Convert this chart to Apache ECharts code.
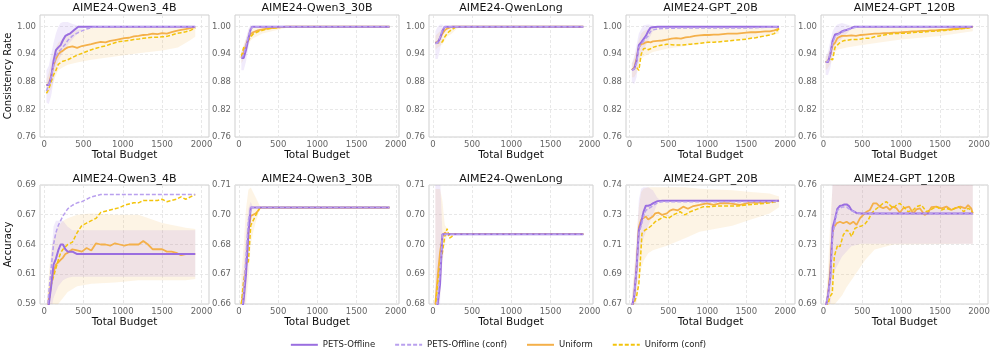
<!DOCTYPE html>
<html>
<head>
<meta charset="utf-8">
<script src="https://cdn.jsdelivr.net/npm/echarts@6/dist/echarts.min.js"></script>
<style>
  html, body { margin: 0; padding: 0; background: #fff; }
  #chart { width: 996px; height: 357px; }
</style>
</head>
<body>
<div id="chart"></div>
<script>
// panel titles / tick labels
const titles = ['AIME24-Qwen3_4B', 'AIME24-Qwen3_30B', 'AIME24-QwenLong', 'AIME24-GPT_20B', 'AIME24-GPT_120B'];
const xTicks = [0, 500, 1000, 1500, 2000];
const crTicks = [0.76, 0.82, 0.88, 0.94, 1.00];
const crTickLabels = ['0.76', '0.82', '0.88', '0.94', '1.00'];
const acTicksQ4 = [0.59, 0.615, 0.64, 0.665, 0.69];
const acLabelsQ4 = ['0.59', '0.61', '0.64', '0.67', '0.69'];
const acTicksQ30 = [0.66, 0.6725, 0.685, 0.6975, 0.71];
const acLabelsQ30 = ['0.66', '0.67', '0.68', '0.70', '0.71'];
const acTicksQL = [0.68, 0.6875, 0.695, 0.7025, 0.71];
const acLabelsQL = ['0.68', '0.69', '0.70', '0.70', '0.71'];
const acTicksG20 = [0.667, 0.686375, 0.70575, 0.725125, 0.7445];
const acLabelsG20 = ['0.67', '0.69', '0.71', '0.73', '0.74'];
const acTicksG120 = [0.69, 0.7075, 0.725, 0.7425, 0.76];
const acLabelsG120 = ['0.69', '0.71', '0.73', '0.74', '0.76'];

// ---- consistency rate: [budget, value], bands: [budget, low, high]
const crQ4Pets = [[30,.873],[60,.873],[90,.89],[120,.925],[150,.949],[180,.955],[210,.96],[240,.971],[270,.98],[300,.983],[330,.985],[390,.994],[435,1],[1920,1]];
const crQ4PetsC = [[30,.86],[60,.875],[90,.89],[120,.915],[150,.935],[180,.945],[210,.95],[270,.962],[300,.97],[360,.98],[420,.986],[480,.991],[540,.995],[600,.998],[660,1],[1920,1]];
const crQ4Uni = [[30,.873],[60,.875],[90,.895],[120,.915],[150,.93],[180,.94],[210,.945],[240,.948],[270,.952],[300,.955],[360,.957],[420,.954],[480,.958],[540,.96],[600,.962],[660,.965],[720,.967],[780,.966],[840,.969],[900,.971],[960,.973],[1020,.975],[1080,.976],[1140,.979],[1200,.98],[1260,.982],[1320,.983],[1380,.985],[1440,.984],[1500,.986],[1560,.985],[1620,.988],[1680,.991],[1740,.993],[1800,.995],[1860,.997],[1920,.999]];
const crQ4UniC = [[30,.855],[60,.865],[90,.88],[120,.895],[150,.905],[180,.918],[210,.922],[240,.925],[300,.928],[360,.933],[420,.938],[480,.942],[540,.946],[600,.95],[660,.953],[720,.956],[780,.958],[840,.962],[900,.965],[960,.968],[1020,.969],[1080,.97],[1140,.972],[1200,.973],[1260,.975],[1320,.976],[1380,.977],[1440,.977],[1500,.978],[1560,.979],[1620,.982],[1680,.985],[1740,.987],[1800,.989],[1860,.992],[1920,.997]];
const crQ4PetsBand = [[30,.835,.905],[60,.832,.915],[90,.85,.94],[120,.88,.965],[150,.91,.985],[180,.925,1.0],[210,.935,1.008],[240,.945,1.01],[300,.96,1.01],[360,.972,1.006],[420,.985,1.003],[480,.994,1.0],[540,1,1],[1920,1,1]];
const crQ4UniBand = [[30,.86,.885],[60,.855,.9],[90,.865,.92],[120,.88,.94],[150,.895,.955],[180,.905,.965],[240,.912,.975],[300,.917,.985],[420,.922,.993],[600,.928,.998],[900,.935,1.0],[1200,.942,1.0],[1500,.948,1.0],[1700,.955,1.0],[1850,.97,1.0],[1920,.978,1.0]];

const crQ30Pets = [[30,.932],[60,.932],[90,.95],[120,.975],[150,.995],[170,1],[1920,1]];
const crQ30PetsC = [[30,.932],[60,.94],[90,.96],[120,.98],[150,.995],[180,1],[1920,1]];
const crQ30Uni = [[30,.932],[60,.945],[90,.96],[120,.975],[150,.984],[180,.988],[210,.99],[240,.992],[300,.994],[360,.996],[420,.997],[480,.998],[540,.999],[600,1],[1920,1]];
const crQ30UniC = [[30,.935],[60,.955],[90,.955],[120,.97],[150,.978],[180,.984],[240,.989],[300,.992],[360,.995],[420,.997],[480,.998],[600,1],[1920,1]];
const crQ30PetsBand = [[30,.905,.945],[60,.905,.955],[90,.925,.975],[120,.955,.995],[150,.985,1.005],[180,1,1],[1920,1,1]];
const crQ30UniBand = [[30,.92,.945],[60,.93,.96],[90,.945,.975],[120,.96,.99],[150,.97,1.0],[180,.975,1.0],[240,.98,1.0],[300,.985,1.0],[420,.99,1.0],[600,.997,1.0],[800,1,1],[1920,1,1]];

const crQLPets = [[30,.965],[60,.965],[80,.966],[90,.975],[120,.99],[150,1],[1920,1]];
const crQLPetsC = [[30,.963],[60,.965],[90,.978],[120,.993],[150,1],[1920,1]];
const crQLUni = [[30,.965],[60,.967],[90,.975],[120,.985],[150,.992],[180,.996],[210,.998],[240,1],[1920,1]];
const crQLUniC = [[30,.965],[60,.965],[90,.965],[120,.967],[150,.978],[180,.985],[210,.99],[240,.994],[270,.997],[300,1],[1920,1]];
const crQLPetsBand = [[30,.93,.99],[60,.93,1.0],[90,.95,1.005],[120,.98,1.005],[150,1,1],[1920,1,1]];
const crQLUniBand = [[30,.95,.98],[60,.955,.985],[90,.958,.99],[120,.962,.997],[150,.97,1.0],[180,.978,1.0],[240,.985,1.0],[300,.995,1.0],[360,1,1],[1920,1,1]];

const crG20Pets = [[30,.906],[60,.908],[90,.925],[120,.96],[150,.966],[180,.973],[210,.98],[240,.99],[270,.998],[300,.999],[360,1],[1920,1]];
const crG20PetsC = [[30,.905],[60,.908],[90,.92],[120,.955],[150,.962],[180,.968],[210,.975],[240,.98],[270,.99],[300,.993],[360,.995],[420,.996],[600,.997],[1500,.997],[1920,1]];
const crG20Uni = [[30,.906],[60,.91],[90,.93],[120,.955],[150,.962],[180,.963],[210,.966],[240,.967],[270,.966],[300,.968],[360,.969],[420,.97],[480,.972],[540,.974],[600,.975],[660,.974],[720,.977],[780,.978],[840,.98],[900,.981],[960,.982],[1020,.982],[1080,.983],[1140,.983],[1200,.984],[1260,.985],[1320,.985],[1380,.985],[1440,.986],[1500,.987],[1560,.988],[1620,.988],[1680,.989],[1740,.99],[1800,.99],[1860,.992],[1920,.996]];
const crG20UniC = [[30,.906],[60,.91],[90,.912],[120,.905],[150,.94],[180,.952],[210,.953],[240,.95],[270,.952],[300,.955],[360,.958],[420,.96],[480,.962],[540,.961],[600,.96],[660,.96],[720,.961],[780,.962],[840,.963],[900,.964],[960,.965],[1020,.966],[1080,.966],[1140,.967],[1200,.968],[1260,.969],[1320,.97],[1380,.971],[1440,.972],[1500,.973],[1560,.975],[1620,.976],[1680,.978],[1740,.98],[1800,.982],[1860,.985],[1920,.996]];
const crG20PetsBand = [[30,.88,.92],[60,.875,.935],[90,.89,.96],[120,.925,.985],[150,.94,.995],[180,.95,1.003],[240,.97,1.005],[300,.99,1.003],[360,1,1],[1920,1,1]];
const crG20UniBand = [[30,.89,.92],[60,.89,.93],[90,.9,.95],[120,.92,.97],[150,.93,.985],[180,.935,.99],[240,.94,.995],[300,.945,.997],[480,.952,.998],[720,.958,1.0],[1000,.965,1.0],[1300,.97,1.0],[1600,.975,1.0],[1920,.985,1.0]];

const crG120Pets = [[30,.923],[60,.923],[90,.94],[120,.97],[150,.983],[180,.984],[210,.986],[240,.99],[270,.992],[300,.993],[360,.997],[400,1],[1920,1]];
const crG120PetsC = [[30,.923],[60,.925],[90,.945],[120,.965],[150,.978],[180,.982],[210,.985],[240,.988],[270,.99],[300,.993],[360,.996],[420,.999],[480,1],[1920,1]];
const crG120Uni = [[30,.923],[60,.925],[90,.94],[120,.96],[150,.965],[180,.975],[210,.978],[240,.98],[270,.98],[300,.98],[360,.981],[420,.98],[480,.982],[540,.983],[600,.984],[660,.985],[720,.985],[780,.986],[840,.986],[900,.987],[960,.987],[1020,.988],[1080,.989],[1140,.99],[1200,.99],[1260,.991],[1320,.991],[1380,.992],[1440,.992],[1500,.993],[1560,.993],[1620,.994],[1680,.995],[1740,.996],[1800,.997],[1860,.998],[1920,1]];
const crG120UniC = [[30,.923],[60,.925],[90,.93],[120,.928],[150,.955],[180,.96],[210,.965],[240,.968],[270,.97],[300,.97],[360,.972],[420,.972],[480,.973],[540,.975],[600,.975],[660,.978],[720,.98],[780,.982],[840,.984],[900,.985],[960,.985],[1020,.986],[1080,.986],[1140,.987],[1200,.988],[1260,.988],[1320,.989],[1380,.99],[1440,.99],[1500,.991],[1560,.992],[1620,.993],[1680,.994],[1740,.995],[1800,.996],[1860,.997],[1920,.999]];
const crG120PetsBand = [[30,.895,.935],[60,.895,.945],[90,.91,.97],[120,.94,.99],[150,.96,1.0],[180,.965,1.005],[240,.975,1.008],[300,.985,1.005],[360,.995,1.002],[420,1,1],[1920,1,1]];
const crG120UniBand = [[30,.905,.935],[60,.91,.94],[90,.92,.955],[120,.935,.975],[150,.945,.985],[180,.95,.99],[300,.955,.995],[500,.96,.998],[700,.965,1.0],[1000,.972,1.0],[1500,.98,1.0],[1920,.99,1.0]];

// ---- accuracy
const acQ4Pets = [[30,.57],[60,.59],[90,.605],[120,.623],[150,.628],[180,.635],[210,.64],[240,.64],[270,.636],[300,.634],[360,.634],[420,.632],[1920,.632]];
const acQ4PetsC = [[30,.575],[60,.6],[90,.62],[120,.64],[150,.65],[180,.656],[210,.66],[240,.664],[270,.667],[300,.67],[360,.673],[420,.675],[480,.676],[540,.678],[600,.68],[660,.681],[720,.682],[1920,.682]];
const acQ4Uni = [[30,.57],[60,.595],[90,.608],[120,.617],[150,.623],[180,.625],[210,.627],[240,.629],[270,.632],[300,.633],[360,.636],[420,.635],[480,.634],[540,.637],[600,.635],[660,.641],[720,.64],[780,.64],[840,.639],[900,.641],[960,.64],[1020,.639],[1080,.64],[1140,.64],[1200,.64],[1260,.643],[1320,.64],[1380,.636],[1440,.636],[1500,.636],[1560,.634],[1620,.634],[1680,.633],[1740,.631],[1800,.632],[1860,.632],[1920,.632]];
const acQ4UniC = [[30,.57],[60,.59],[90,.606],[120,.613],[150,.62],[180,.627],[210,.633],[240,.636],[270,.638],[300,.64],[360,.642],[420,.65],[480,.656],[540,.658],[600,.66],[660,.662],[720,.667],[780,.668],[840,.669],[900,.67],[960,.671],[1020,.673],[1080,.674],[1140,.675],[1200,.675],[1260,.677],[1320,.677],[1380,.677],[1440,.677],[1500,.678],[1560,.676],[1620,.677],[1680,.678],[1740,.68],[1800,.678],[1860,.68],[1920,.682]];
const acQ4PetsBand = [[30,.56,.585],[60,.575,.6],[90,.585,.63],[120,.595,.655],[150,.6,.66],[180,.605,.66],[240,.61,.66],[300,.612,.655],[360,.613,.652],[1920,.613,.652]];
const acQ4UniBand = [[30,.56,.59],[60,.57,.615],[90,.575,.635],[120,.58,.645],[150,.585,.65],[180,.59,.655],[240,.595,.66],[300,.6,.662],[420,.605,.665],[600,.607,.666],[900,.608,.665],[1200,.61,.665],[1500,.61,.658],[1800,.61,.654],[1920,.611,.653]];

const acQ30Pets = [[30,.655],[60,.662],[90,.673],[120,.69],[150,.7005],[1920,.7005]];
const acQ30PetsC = [[30,.655],[60,.665],[90,.68],[120,.695],[150,.7005],[1920,.7005]];
const acQ30Uni = [[30,.66],[60,.665],[90,.675],[120,.69],[150,.697],[180,.6975],[210,.698],[240,.699],[270,.7005],[1920,.7005]];
const acQ30UniC = [[30,.66],[60,.67],[90,.676],[120,.678],[150,.693],[180,.695],[210,.697],[240,.699],[270,.7005],[1920,.7005]];
const acQ30PetsBand = [[30,.65,.665],[60,.655,.675],[90,.665,.69],[120,.682,.70],[150,.698,.703],[180,.7005,.7005],[1920,.7005,.7005]];
const acQ30UniBand = [[30,.65,.672],[60,.655,.685],[90,.66,.70],[120,.67,.708],[150,.685,.709],[180,.69,.707],[210,.694,.705],[240,.697,.703],[270,.7,.701],[300,.7005,.7005],[1920,.7005,.7005]];

const acQLPets = [[30,.677],[60,.68],[90,.685],[120,.6976],[1920,.6976]];
const acQLPetsC = [[30,.677],[60,.681],[90,.688],[120,.6976],[1920,.6976]];
const acQLUni = [[30,.68],[60,.687],[90,.693],[120,.697],[150,.698],[180,.6976],[1920,.6976]];
const acQLUniC = [[30,.679],[60,.685],[90,.69],[120,.693],[150,.697],[180,.699],[210,.6966],[240,.697],[270,.6976],[1920,.6976]];
const acQLPetsBand = [[30,.672,.712],[60,.674,.713],[90,.68,.712],[120,.6976,.6976],[1920,.6976,.6976]];
const acQLUniBand = [[30,.672,.709],[60,.675,.709],[90,.682,.709],[120,.69,.706],[150,.695,.70],[180,.697,.699],[210,.6976,.6976],[1920,.6976,.6976]];

const acG20Pets = [[30,.665],[60,.672],[90,.69],[120,.715],[150,.72],[180,.727],[210,.731],[240,.731],[270,.7315],[300,.7325],[360,.734],[420,.7343],[1920,.7343]];
const acG20PetsC = [[30,.665],[60,.672],[90,.69],[120,.713],[150,.718],[180,.724],[210,.728],[240,.729],[270,.73],[300,.731],[360,.733],[420,.7336],[1860,.7336],[1920,.7343]];
const acG20Uni = [[30,.665],[60,.672],[90,.69],[120,.717],[150,.722],[180,.723],[210,.724],[240,.722],[270,.723],[300,.724],[330,.726],[370,.7265],[420,.725],[480,.726],[520,.7278],[560,.7286],[620,.728],[690,.7304],[750,.729],[820,.7308],[900,.7315],[990,.7326],[1080,.7315],[1160,.7326],[1280,.7326],[1420,.7315],[1550,.733],[1680,.733],[1800,.7336],[1920,.7343]];
const acG20UniC = [[30,.665],[60,.668],[90,.672],[120,.68],[140,.6957],[160,.713],[200,.7152],[240,.7163],[290,.7184],[330,.7206],[370,.7217],[440,.7239],[500,.7228],[560,.725],[650,.7271],[710,.725],[780,.7271],[860,.7286],[950,.7304],[1030,.7304],[1120,.7308],[1250,.7308],[1380,.7308],[1500,.7315],[1630,.7321],[1760,.7326],[1880,.7336],[1920,.7343]];
const acG20PetsBand = [[30,.66,.67],[60,.663,.685],[90,.675,.705],[120,.695,.735],[150,.705,.742],[180,.71,.743],[240,.718,.743],[300,.725,.741],[360,.733,.736],[420,.7343,.7343],[1920,.7343,.7343]];
const acG20UniBand = [[30,.66,.672],[60,.663,.69],[90,.668,.71],[120,.68,.73],[150,.69,.74],[180,.695,.742],[240,.70,.743],[300,.702,.743],[480,.705,.743],[720,.71,.743],[900,.714,.742],[1320,.718,.741],[1560,.722,.74],[1800,.726,.739],[1920,.73,.737]];

const acG120Pets = [[30,.688],[60,.695],[90,.706],[120,.735],[150,.74],[180,.746],[210,.7476],[240,.748],[270,.7485],[300,.7486],[330,.7476],[360,.7453],[420,.7437],[480,.7433],[1920,.7433]];
const acG120PetsC = [[30,.688],[60,.695],[90,.705],[120,.73],[150,.738],[180,.745],[240,.747],[300,.747],[360,.745],[420,.7437],[480,.7433],[1920,.7433]];
const acG120Uni = [[30,.688],[60,.695],[90,.71],[107,.7257],[128,.7345],[171,.7375],[214,.7384],[256,.7375],[299,.7384],[342,.737],[385,.7384],[427,.7365],[470,.7404],[513,.7424],[556,.7443],[598,.7453],[641,.7492],[684,.7492],[726,.7473],[769,.7463],[812,.7473],[855,.7453],[897,.7473],[940,.7463],[983,.7437],[1026,.7463],[1103,.7473],[1154,.7433],[1197,.7457],[1240,.7463],[1303,.7424],[1346,.7437],[1389,.747],[1453,.7473],[1518,.7463],[1582,.7473],[1646,.7453],[1689,.7463],[1760,.7473],[1825,.7463],[1860,.7482],[1900,.7463],[1920,.7433]];
const acG120UniC = [[30,.688],[60,.69],[85,.6943],[115,.6963],[141,.7178],[158,.7208],[184,.7247],[214,.7237],[256,.7306],[299,.7335],[329,.7326],[363,.7296],[406,.7345],[449,.7355],[492,.7359],[534,.737],[577,.7394],[620,.7433],[662,.7453],[726,.7476],[769,.7492],[812,.7502],[855,.7482],[897,.7463],[940,.7482],[983,.7492],[1026,.7473],[1089,.7443],[1154,.7453],[1197,.7473],[1261,.7482],[1325,.7443],[1389,.7457],[1453,.7473],[1518,.7453],[1582,.7463],[1646,.7453],[1739,.7473],[1803,.7443],[1860,.7463],[1900,.7453],[1920,.7433]];
const acG120PetsBand = [[30,.685,.692],[60,.688,.70],[90,.69,.725],[120,.705,.765],[150,.71,.77],[240,.718,.77],[360,.724,.77],[480,.7255,.77],[1920,.7255,.77]];
const acG120UniBand = [[30,.685,.692],[60,.685,.71],[90,.688,.74],[120,.69,.76],[150,.69,.77],[240,.695,.77],[300,.70,.77],[420,.708,.77],[540,.716,.77],[660,.722,.77],[900,.725,.77],[1920,.7255,.77]];

// layout
const colX = [[40, 209], [235, 399], [429, 593], [626, 795], [821, 988]];
const colRange = [[-52, 2095], [-51, 2041], [-51, 2043], [-45, 2125], [-30, 2116]];
const rowY = [[15, 137], [185, 304]];

const C_PETS = '#9a6ee0', C_PETS_C = '#b9a0ee', C_UNI = '#f4b04a', C_UNI_C = '#f3c40c';
const BAND_PETS = 'rgba(155,110,224,0.14)', BAND_UNI = 'rgba(244,176,74,0.14)';

const panels = [
  {r:0,c:0,s:[crQ4Uni,crQ4UniC,crQ4Pets,crQ4PetsC],b:[crQ4UniBand,crQ4PetsBand],y:[.76,1.0255],t:crTicks,l:crTickLabels},
  {r:0,c:1,s:[crQ30Uni,crQ30UniC,crQ30Pets,crQ30PetsC],b:[crQ30UniBand,crQ30PetsBand],y:[.76,1.0255],t:crTicks,l:crTickLabels},
  {r:0,c:2,s:[crQLUni,crQLUniC,crQLPets,crQLPetsC],b:[crQLUniBand,crQLPetsBand],y:[.76,1.0255],t:crTicks,l:crTickLabels},
  {r:0,c:3,s:[crG20Uni,crG20UniC,crG20Pets,crG20PetsC],b:[crG20UniBand,crG20PetsBand],y:[.76,1.0255],t:crTicks,l:crTickLabels},
  {r:0,c:4,s:[crG120Uni,crG120UniC,crG120Pets,crG120PetsC],b:[crG120UniBand,crG120PetsBand],y:[.76,1.0255],t:crTicks,l:crTickLabels},
  {r:1,c:0,s:[acQ4Uni,acQ4UniC,acQ4Pets,acQ4PetsC],b:[acQ4UniBand,acQ4PetsBand],y:[.59,.69],t:acTicksQ4,l:acLabelsQ4},
  {r:1,c:1,s:[acQ30Uni,acQ30UniC,acQ30Pets,acQ30PetsC],b:[acQ30UniBand,acQ30PetsBand],y:[.66,.71],t:acTicksQ30,l:acLabelsQ30},
  {r:1,c:2,s:[acQLUni,acQLUniC,acQLPets,acQLPetsC],b:[acQLUniBand,acQLPetsBand],y:[.68,.71],t:acTicksQL,l:acLabelsQL},
  {r:1,c:3,s:[acG20Uni,acG20UniC,acG20Pets,acG20PetsC],b:[acG20UniBand,acG20PetsBand],y:[.667,.7445],t:acTicksG20,l:acLabelsG20},
  {r:1,c:4,s:[acG120Uni,acG120UniC,acG120Pets,acG120PetsC],b:[acG120UniBand,acG120PetsBand],y:[.69,.76],t:acTicksG120,l:acLabelsG120}
];

const lineDefs = [
  {name: 'Uniform', color: C_UNI, width: 1.8, type: 'solid'},
  {name: 'Uniform (conf)', color: C_UNI_C, width: 1.5, type: [4, 2]},
  {name: 'PETS-Offline', color: C_PETS, width: 2, type: 'solid'},
  {name: 'PETS-Offline (conf)', color: C_PETS_C, width: 1.5, type: [4, 2]}
];

const grids = [], xAxes = [], yAxes = [], series = [], titleList = [];
const gridLine = {show: true, lineStyle: {color: '#e2e2e2', width: 0.8, type: [3, 2]}};

panels.forEach((p, i) => {
  const [x0, x1] = colX[p.c];
  const [y0, y1] = rowY[p.r];
  grids.push({left: x0, top: y0, width: x1 - x0, height: y1 - y0, show: true,
    borderColor: '#cfcfcf', borderWidth: 1, backgroundColor: 'transparent'});
  titleList.push({text: titles[p.c], left: (x0 + x1) / 2, top: y0 - (p.r === 0 ? 12 : 11), textAlign: 'center', padding: 0,
    textStyle: {fontSize: 11, fontWeight: 'normal', color: '#111', fontFamily: 'DejaVu Sans'}});
  xAxes.push({gridIndex: i, type: 'value', min: colRange[p.c][0], max: colRange[p.c][1],
    axisLine: {show: false}, axisTick: {show: false, customValues: xTicks},
    axisLabel: {customValues: xTicks, fontSize: 8.5, color: '#666', margin: 3, formatter: v => String(v)},
    splitLine: gridLine,
    name: 'Total Budget', nameLocation: 'middle', nameGap: 13,
    nameTextStyle: {fontSize: 10.5, color: '#111'}});
  const ticks = p.t, labels = p.l;
  yAxes.push({gridIndex: i, type: 'value', min: p.y[0], max: p.y[1],
    axisLine: {show: false}, axisTick: {show: false, customValues: ticks},
    axisLabel: {customValues: ticks, fontSize: 8.5, color: '#666', margin: 4,
      formatter: v => labels[ticks.findIndex(t => Math.abs(t - v) < 1e-6)]},
    splitLine: gridLine,
    name: p.c === 0 ? (p.r === 0 ? 'Consistency Rate' : 'Accuracy') : '',
    nameLocation: 'middle', nameGap: 24, nameTextStyle: {fontSize: 10, color: '#111'}});

  [[p.b[0], BAND_UNI], [p.b[1], BAND_PETS]].forEach(([band, fill]) => {
    series.push({type: 'custom', xAxisIndex: i, yAxisIndex: i, clip: true, silent: true, z: 1,
      data: [[band[0][0], band[0][1]]],
      renderItem: (params, api) => {
        const up = band.map(q => api.coord([q[0], q[2]]));
        const lo = band.slice().reverse().map(q => api.coord([q[0], q[1]]));
        return {type: 'polygon', shape: {points: up.concat(lo)}, style: {fill: fill}};
      }});
  });

  lineDefs.forEach((d, k) => {
    series.push({type: 'line', name: d.name, xAxisIndex: i, yAxisIndex: i, z: 2 + k,
      data: p.s[k], symbol: 'none', showSymbol: false, clip: true,
      lineStyle: {color: d.color, width: d.width, type: d.type},
      itemStyle: {color: d.color}});
  });
});

const chart = echarts.init(document.getElementById('chart'));
chart.setOption({
  animation: false,
  textStyle: {fontFamily: 'DejaVu Sans'},
  title: titleList,
  grid: grids,
  xAxis: xAxes,
  yAxis: yAxes,
  legend: {
    data: ['PETS-Offline', 'PETS-Offline (conf)', 'Uniform', 'Uniform (conf)'],
    left: 'center', top: 335, itemWidth: 27, itemHeight: 12, itemGap: 19,
    itemStyle: {opacity: 0},
    textStyle: {fontSize: 8.5, color: '#222'}
  },
  series: series
});
</script>
</body>
</html>
